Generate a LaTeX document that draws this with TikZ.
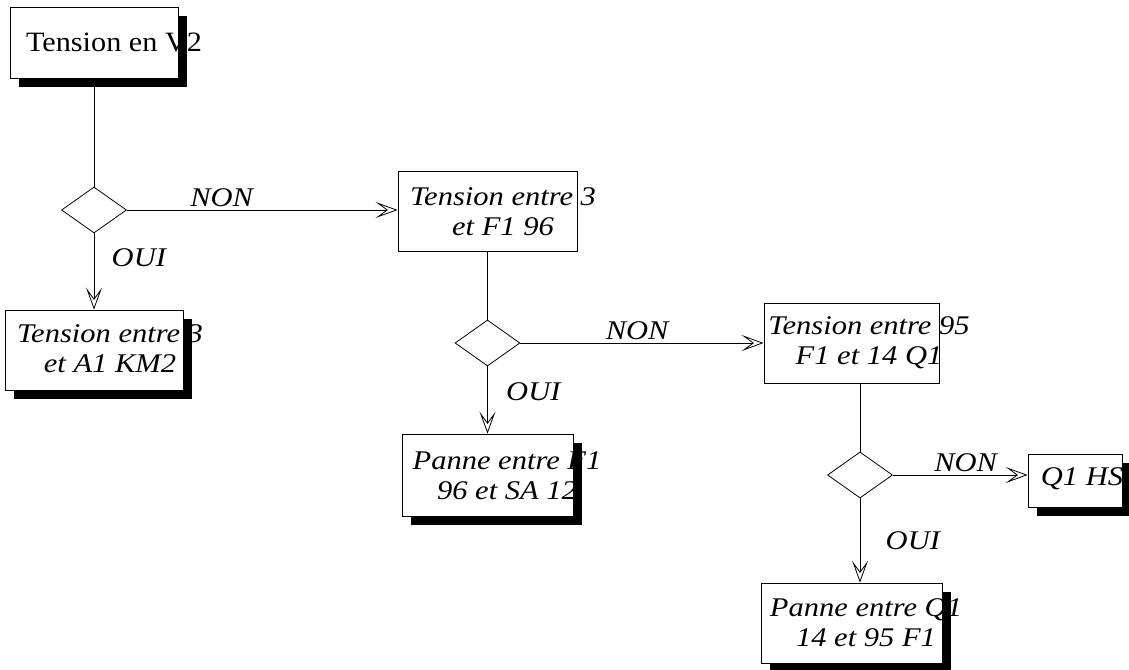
\documentclass[tikz,border=0pt]{standalone}
\usepackage{fontspec}
\setmainfont{Liberation Serif}
\newfontfamily\labfont{Liberation Serif}[FakeStretch=1.13]
\newfontfamily\topfont{Liberation Serif}[FakeStretch=1.08]
\usetikzlibrary{shapes.geometric,arrows.meta,shadows}

\tikzset{
  box/.style={draw,fill=white,inner sep=0pt,drop shadow={shadow xshift=9pt,shadow yshift=-9pt,fill=black,opacity=1}},
  flat/.style={draw,fill=white,inner sep=0pt},
  test/.style={diamond,draw,fill=white,inner sep=0pt,minimum width=65pt,minimum height=46pt},
  txt/.style={font=\labfont\itshape\fontsize{27}{30}\selectfont,align=center},
  ans/.style={font=\labfont\itshape\fontsize{27}{30}\selectfont},
  fleche/.style={-{Stealth[open,length=22pt,width=16pt,inset=11pt]}}
}

\begin{document}
\begin{tikzpicture}[x=1pt,y=-1pt,line width=0.8pt]
    \useasboundingbox (0,0) rectangle (1129,669);
   		\node at (94,42.5) [box,minimum width=168pt,minimum height=71pt] (a) {};
        \node at (94,210) [test] (d1) {};
        \node at (487.5,211) [flat,minimum width=179pt,minimum height=80pt] (b) {};
        \node at (94,350) [box,minimum width=178pt,minimum height=80pt] (c) {};
        \node at (487.5,343) [test] (d2) {};
        \node at (851.5,343) [flat,minimum width=175pt,minimum height=80pt] (d) {};
        \node at (487.5,475) [box,minimum width=171pt,minimum height=82pt] (e) {};
        \node at (860,475) [test] (d3) {};
        \node at (1075,480.5) [box,minimum width=94pt,minimum height=53pt] (f) {};
        \node at (851.5,623) [box,minimum width=181pt,minimum height=80pt] (g) {};
        % texts
        \node at (114,52) [anchor=base,font=\topfont\fontsize{28}{30}\selectfont] (ta) {Tension en V2};
        \node at (503,212) [txt] (tb) {Tension entre 3\\et F1 96};
        \node at (110,349) [txt] (tc) {Tension entre 3\\et A1 KM2};
        \node at (869,343) [txt] (td) {Tension entre 95\\F1 et 14 Q1};
        \node at (507,476) [txt] (te) {Panne entre F1\\96 et SA 12};
        \node at (1082,485) [ans,anchor=base] (tf) {Q1 HS};
        \node at (866,623) [txt] (tg) {Panne entre Q1\\14 et 95 F1};
        % connectors
        \draw (a) -- (d1) (b) -- (d2) (d3.north) -- (d3.north |- d.south);
        \draw[fleche] (d1.east) -- (d1.east -| b.west) node[ans,pos=0.35,above] (n1) {NON};
        \draw[fleche] (d1) -- (c) node[ans,pos=0.32,right=14pt] (o1) {OUI};
        \draw[fleche] (d2) -- (e) node[ans,pos=0.37,right=15pt] (o2) {OUI};
        \draw[fleche] (d2) -- (d) node[ans,pos=0.48,above] (n2) {NON};
        \draw[fleche] (d3.east) -- (d3.east -| f.west) node[ans,pos=0.54,above] (n3) {NON};
        \draw[fleche] (d3.south) -- (d3.south |- g.north) node[ans,pos=0.5,right=22pt] (o3) {OUI};
    \end{tikzpicture}
\end{document}
